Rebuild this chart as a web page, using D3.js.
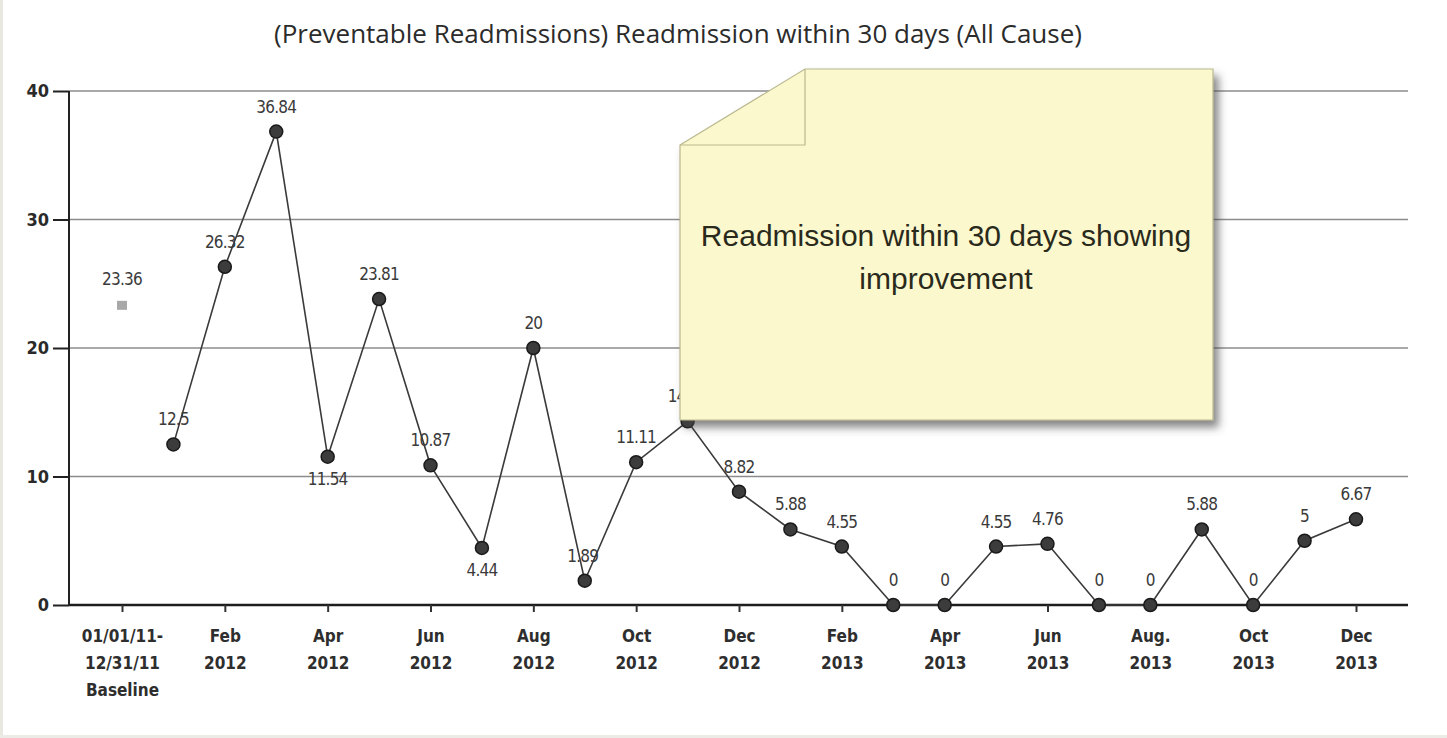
<!DOCTYPE html>
<html>
<head>
<meta charset="utf-8">
<script src="https://cdn.jsdelivr.net/npm/d3@7"></script>
<style>
  body { margin: 0; background: #fff; }
  svg { display: block; }
</style>
</head>
<body>
<script>
// Data
var categories = ['Baseline',
  'Jan 2012', 'Feb 2012', 'Mar 2012', 'Apr 2012', 'May 2012', 'Jun 2012',
  'Jul 2012', 'Aug 2012', 'Sep 2012', 'Oct 2012', 'Nov 2012', 'Dec 2012',
  'Jan 2013', 'Feb 2013', 'Mar 2013', 'Apr 2013', 'May 2013', 'Jun 2013',
  'Jul 2013', 'Aug 2013', 'Sep 2013', 'Oct 2013', 'Nov 2013', 'Dec 2013'];
var baselineValue = 23.36;
var monthlyValues = [12.5, 26.32, 36.84, 11.54, 23.81, 10.87, 4.44, 20, 1.89, 11.11, 14.29, 8.82,
  5.88, 4.55, 0, 0, 4.55, 4.76, 0, 0, 5.88, 0, 5, 6.67];
var valueLabels = ['12.5', '26.32', '36.84', '11.54', '23.81', '10.87', '4.44', '20', '1.89', '11.11', '14.29', '8.82',
  '5.88', '4.55', '0', '0', '4.55', '4.76', '0', '0', '5.88', '0', '5', '6.67'];
var tickLabels = {
  'Baseline': ['01/01/11-', '12/31/11', 'Baseline'],
  'Feb 2012': ['Feb', '2012'], 'Apr 2012': ['Apr', '2012'], 'Jun 2012': ['Jun', '2012'],
  'Aug 2012': ['Aug', '2012'], 'Oct 2012': ['Oct', '2012'], 'Dec 2012': ['Dec', '2012'],
  'Feb 2013': ['Feb', '2013'], 'Apr 2013': ['Apr', '2013'], 'Jun 2013': ['Jun', '2013'],
  'Aug 2013': ['Aug.', '2013'], 'Oct 2013': ['Oct', '2013'], 'Dec 2013': ['Dec', '2013']
};
var yTicks = [0, 10, 20, 30, 40];
var title = '(Preventable Readmissions) Readmission within 30 days (All Cause)';
var noteLines = ['Readmission within 30 days showing', 'improvement'];

var W = 1447, H = 738;
var plotLeft = 69, plotRight = 1408, plotTop = 91, plotBottom = 605;
var tickFont = '"DejaVu Sans Condensed", "DejaVu Sans", sans-serif';

var svg = d3.select('body').append('svg')
    .attr('width', W)
    .attr('height', H);

// page edges
svg.append('rect').attr('x', 0).attr('y', 0).attr('width', 3).attr('height', H).attr('fill', '#e9e7df');
svg.append('rect').attr('x', 0).attr('y', H - 3).attr('width', W).attr('height', 3).attr('fill', '#ecebe6');

var defs = svg.append('defs');
var shadow = defs.append('filter').attr('id', 'shadow')
    .attr('x', '-10%').attr('y', '-10%').attr('width', '125%').attr('height', '125%');
shadow.append('feDropShadow')
    .attr('dx', 5).attr('dy', 7).attr('stdDeviation', 4)
    .attr('flood-color', '#444').attr('flood-opacity', 0.65);

// Scales
var x = d3.scalePoint().domain(categories).range([122, 1356]);
var y = d3.scaleLinear().domain([0, 40]).range([plotBottom, plotTop]);

// Title
svg.append('text')
    .attr('x', 678).attr('y', 43)
    .attr('text-anchor', 'middle')
    .style('font-family', '"Open Sans", sans-serif')
    .style('font-size', '26px')
    .attr('fill', '#2b2b2b')
    .text(title);

// Gridlines
svg.append('g').selectAll('line')
    .data(yTicks.filter(function(d) { return d > 0; }))
    .enter().append('line')
    .attr('x1', plotLeft).attr('x2', plotRight)
    .attr('y1', function(d) { return y(d); })
    .attr('y2', function(d) { return y(d); })
    .attr('stroke', '#8c8c8c')
    .attr('stroke-width', 1.3);

// Y axis
var yAxis = d3.axisLeft(y).tickValues(yTicks).tickSize(16).tickPadding(4);
var gy = svg.append('g')
    .attr('transform', 'translate(' + plotLeft + ',0)')
    .call(yAxis);
gy.select('.domain').attr('stroke', '#222').attr('stroke-width', 2).attr('d', 'M0,' + plotTop + 'V' + plotBottom);
gy.selectAll('.tick line').attr('stroke', '#222').attr('stroke-width', 2);
gy.selectAll('.tick text')
    .style('font-family', tickFont)
    .style('font-size', '18px')
    .style('font-weight', 'bold')
    .attr('fill', '#2a2a2a');

// X axis
var xAxis = d3.axisBottom(x)
    .tickValues(Object.keys(tickLabels))
    .tickSize(7)
    .tickFormat('');
var gx = svg.append('g')
    .attr('transform', 'translate(0,' + plotBottom + ')')
    .call(xAxis);
gx.select('.domain').attr('stroke', '#1e1e1e').attr('stroke-width', 2.5).attr('d', 'M' + plotLeft + ',0H' + plotRight);
gx.selectAll('.tick line').attr('stroke', '#333').attr('stroke-width', 2);
gx.selectAll('.tick').each(function(d) {
  var t = d3.select(this).append('text')
      .attr('text-anchor', 'middle')
      .attr('y', 37)
      .style('font-family', tickFont)
      .style('font-size', '17px')
      .style('font-weight', 'bold')
      .attr('fill', '#2e2e2e');
  tickLabels[d].forEach(function(s, i) {
    t.append('tspan').attr('x', 0).attr('dy', i === 0 ? 0 : 27).text(s);
  });
});

// Line
var points = monthlyValues.map(function(v, i) {
  return { cat: categories[i + 1], value: v, label: valueLabels[i], prev: monthlyValues[i - 1], next: monthlyValues[i + 1] };
});
var line = d3.line()
    .x(function(d) { return x(d.cat); })
    .y(function(d) { return y(d.value); });
svg.append('path')
    .datum(points)
    .attr('d', line)
    .attr('fill', 'none')
    .attr('stroke', '#3a3a3a')
    .attr('stroke-width', 1.6);

svg.append('g').selectAll('circle')
    .data(points)
    .enter().append('circle')
    .attr('cx', function(d) { return x(d.cat); })
    .attr('cy', function(d) { return y(d.value); })
    .attr('r', 6.5)
    .attr('fill', '#3c3c3c')
    .attr('stroke', '#1a1a1a')
    .attr('stroke-width', 1.5);

// Value labels: below local dips, above otherwise
function below(d) {
  return d.prev !== undefined && d.next !== undefined && d.value < d.prev && d.value < d.next && d.value > 2;
}
svg.append('g').selectAll('text')
    .data(points)
    .enter().append('text')
    .attr('x', function(d) { return x(d.cat) + (d.value < 2 && d.value > 0 ? -2 : 0); })
    .attr('y', function(d) { return y(d.value) + (below(d) ? 28 : -19); })
    .attr('text-anchor', 'middle')
    .style('font-family', tickFont)
    .style('font-size', '17px')
    .style('letter-spacing', '-0.8px')
    .attr('fill', '#3a3a3a')
    .text(function(d) { return d.label; });

// Baseline point (separate marker, no line)
svg.append('rect')
    .attr('x', x('Baseline') - 5).attr('y', y(baselineValue) - 4)
    .attr('width', 10).attr('height', 9)
    .attr('fill', '#a8a8a8');
svg.append('text')
    .attr('x', x('Baseline')).attr('y', y(baselineValue) - 20)
    .attr('text-anchor', 'middle')
    .style('font-family', tickFont)
    .style('font-size', '17px')
    .style('letter-spacing', '-0.8px')
    .attr('fill', '#3a3a3a')
    .text(baselineValue);

// Note callout
var note = svg.append('g');
var nx0 = 680, nx1 = 1213, ny0 = 69, ny1 = 420, fx = 805, fy = 145;
note.append('path')
    .attr('d', 'M' + nx0 + ',' + fy + 'L' + fx + ',' + ny0 + 'L' + nx1 + ',' + ny0 + 'L' + nx1 + ',' + ny1 + 'L' + nx0 + ',' + ny1 + 'Z')
    .attr('fill', '#fcf8cd')
    .attr('stroke', '#b9b88f')
    .attr('stroke-width', 1.2)
    .attr('filter', 'url(#shadow)');
note.append('path')
    .attr('d', 'M' + fx + ',' + ny0 + 'L' + fx + ',' + fy + 'L' + nx0 + ',' + fy)
    .attr('fill', 'none')
    .attr('stroke', '#b9b88f')
    .attr('stroke-width', 1.2);
note.selectAll('text')
    .data(noteLines)
    .enter().append('text')
    .attr('x', 946)
    .attr('y', function(d, i) { return 246 + i * 43; })
    .attr('text-anchor', 'middle')
    .style('font-family', '"Liberation Sans", Arial, sans-serif')
    .style('font-size', '30px')
    .attr('fill', '#2a2a1c')
    .text(function(d) { return d; });
</script>
</body>
</html>
